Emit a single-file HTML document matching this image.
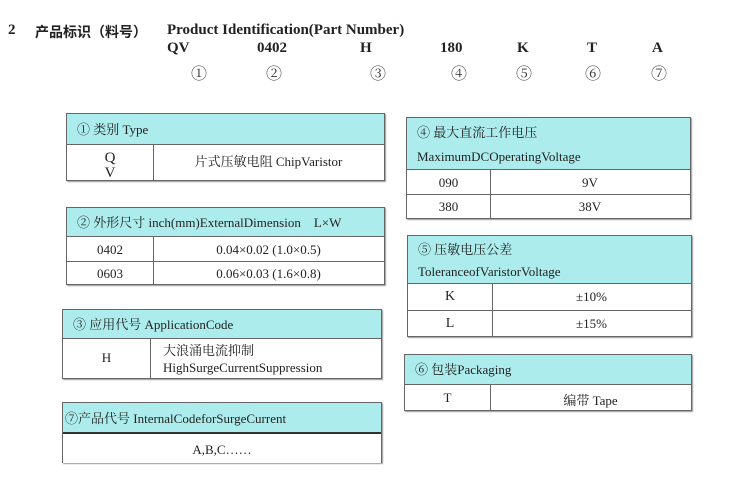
<!DOCTYPE html>
<html><head><meta charset="utf-8"><style>
body{margin:0;width:750px;height:484px;background:#fff;position:relative;overflow:hidden;font-family:"Liberation Serif","Noto Serif CJK SC",serif;color:#222}
.a{position:absolute;white-space:nowrap}
.b{font-weight:bold;font-size:15px}
.c{font-size:16px;color:#333}
.t{position:absolute;border:1px solid #666;box-shadow:1px 1px 1px #999;box-sizing:border-box}
.h{position:absolute;left:0;right:0;top:0;background:#adeced;border-bottom:1px solid #666;font-size:13px;box-sizing:border-box;padding-left:10px}
.r{position:absolute;left:0;right:0;border-top:1px solid #666;font-size:13px}
.v{position:absolute;top:0;bottom:0;border-left:1px solid #666}
.cell{position:absolute;text-align:center}
</style></head><body>
<div class="a b" style="left:8px;top:22px">2</div>
<div class="a b" style="left:35px;top:22px;font-family:'Liberation Sans','Noto Sans CJK SC',sans-serif;font-size:14px">产品标识（料号）</div>
<div class="a b" style="left:167px;top:22px">Product Identification(Part Number)</div>
<div class="a b" style="left:167px;top:40px">QV</div>
<div class="a b" style="left:257px;top:40px">0402</div>
<div class="a b" style="left:360px;top:40px">H</div>
<div class="a b" style="left:440px;top:40px">180</div>
<div class="a b" style="left:517px;top:40px">K</div>
<div class="a b" style="left:587px;top:40px">T</div>
<div class="a b" style="left:652px;top:40px">A</div>
<div class="a c" style="left:191px;top:61px">①</div>
<div class="a c" style="left:266px;top:61px">②</div>
<div class="a c" style="left:370px;top:61px">③</div>
<div class="a c" style="left:451px;top:61px">④</div>
<div class="a c" style="left:516px;top:61px">⑤</div>
<div class="a c" style="left:585px;top:61px">⑥</div>
<div class="a c" style="left:651px;top:61px">⑦</div>

<!-- 1 -->
<div class="t" style="left:66px;top:113px;width:319px;height:68px">
<div class="h" style="height:31px;line-height:31px">① 类别 Type</div>
<div class="v" style="left:86px;top:31px"></div>
<div class="cell" style="left:0;width:86px;top:37px;line-height:15px;font-size:15px">Q<br>V</div>
<div class="cell" style="left:86px;right:0;top:37px;font-size:13px">片式压敏电阻 ChipVaristor</div>
</div>
<!-- 2 -->
<div class="t" style="left:66px;top:207px;width:319px;height:78px">
<div class="h" style="height:29px;line-height:29px">② 外形尺寸 inch(mm)ExternalDimension &nbsp;&nbsp;&nbsp;L×W</div>
<div class="v" style="left:86px;top:29px"></div>
<div class="cell" style="left:0;width:86px;top:34px;font-size:13px">0402</div>
<div class="cell" style="left:86px;right:0;top:34px;font-size:13px">0.04×0.02 (1.0×0.5)</div>
<div class="r" style="top:53px"></div>
<div class="cell" style="left:0;width:86px;top:58px;font-size:13px">0603</div>
<div class="cell" style="left:86px;right:0;top:58px;font-size:13px">0.06×0.03 (1.6×0.8)</div>
</div>
<!-- 3 -->
<div class="t" style="left:62px;top:309px;width:320px;height:70px">
<div class="h" style="height:29px;line-height:29px">③ 应用代号 ApplicationCode</div>
<div class="v" style="left:87px;top:29px"></div>
<div class="cell" style="left:0;width:87px;top:40px;font-size:13px">H</div>
<div class="a" style="left:100px;top:32px;font-size:13px;line-height:17px">大浪涌电流抑制<br>HighSurgeCurrentSuppression</div>
</div>
<!-- 7 -->
<div class="t" style="left:62px;top:402px;width:320px;height:61px;border-bottom:none">
<div class="h" style="height:31px;line-height:31px;border-bottom:2px solid #333;padding-left:2px">⑦产品代号 InternalCodeforSurgeCurrent</div>
<div class="cell" style="left:0;right:0;top:39px;font-size:13px">A,B,C……</div>
</div>
<!-- 4 -->
<div class="t" style="left:406px;top:117px;width:285px;height:102px">
<div class="h" style="height:52px;line-height:24px;padding-top:3px">④ 最大直流工作电压<br>MaximumDCOperatingVoltage</div>
<div class="v" style="left:83px;top:52px"></div>
<div class="cell" style="left:0;width:83px;top:57px;font-size:13px">090</div>
<div class="cell" style="left:83px;right:0;top:57px;font-size:13px">9V</div>
<div class="r" style="top:76px"></div>
<div class="cell" style="left:0;width:83px;top:81px;font-size:13px">380</div>
<div class="cell" style="left:83px;right:0;top:81px;font-size:13px">38V</div>
</div>
<!-- 5 -->
<div class="t" style="left:407px;top:235px;width:285px;height:102px">
<div class="h" style="height:48px;line-height:22px;padding-top:3px">⑤ 压敏电压公差<br>ToleranceofVaristorVoltage</div>
<div class="v" style="left:84px;top:48px"></div>
<div class="cell" style="left:0;width:84px;top:53px;font-size:14px">K</div>
<div class="cell" style="left:84px;right:0;top:53px;font-size:13px">±10%</div>
<div class="r" style="top:74px"></div>
<div class="cell" style="left:0;width:84px;top:80px;font-size:14px">L</div>
<div class="cell" style="left:84px;right:0;top:80px;font-size:13px">±15%</div>
</div>
<!-- 6 -->
<div class="t" style="left:404px;top:354px;width:288px;height:57px">
<div class="h" style="height:30px;line-height:30px">⑥ 包装Packaging</div>
<div class="v" style="left:85px;top:30px"></div>
<div class="cell" style="left:0;width:85px;top:35px;font-size:13px">T</div>
<div class="cell" style="left:85px;right:0;top:35px;font-size:13px">编带 Tape</div>
</div>
</body></html>
